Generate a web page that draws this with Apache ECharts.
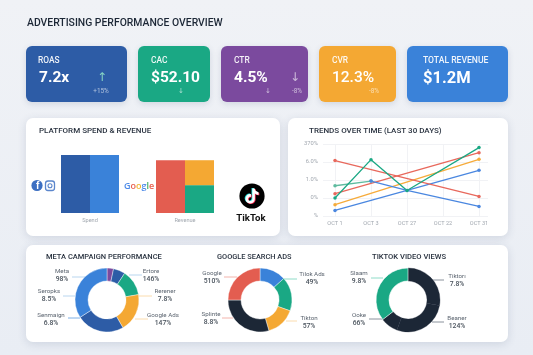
<!DOCTYPE html>
<html>
<head>
<meta charset="utf-8">
<title>Advertising Performance Overview</title>
<style>
  html, body { margin: 0; padding: 0; background: #eef1f6; }
  #main { width: 533px; height: 355px; }
</style>
<script src="https://cdn.jsdelivr.net/npm/echarts@6/dist/echarts.min.js"></script>
</head>
<body>
<div id="main"></div>
<script>
// platform bars
var barCats = ["Spend", "Revenue"];
var barLeft = [100, 91];
var barRightLow = [100, 48];
var barRightTop = [0, 43];

// trends
var trendDays = ["OCT 1", "OCT 3", "OCT 27", "OCT 22", "OCT 31"];
var trendTicks = ["%", "0%", "1.0%", "6.0%", "370%"];
var trendBlueUp = [0.31, null, null, null, 2.54];
var trendOrange = [0.63, null, null, null, 3.15];
var trendRedUp = [1.24, null, null, null, 3.52];
var trendRedDown = [3.08, null, null, null, 1.09];
var trendGreen = [1.0, 3.13, 1.42, null, 3.8];
var trendTeal = [1.68, 1.94, null, null, null];
var trendBlueDown = [null, 1.94, 1.42, null, 0.53];

// donuts, clockwise from the top
var metaNames = ["Meta", "Ertore", "Rerener", "Google Ads", "Senmaign", "Seropks"];
var metaTexts = ["98%", "146%", "7.8%", "147%", "6.8%", "8.5%"];
var metaValues = [3.3, 6, 13, 19.4, 24.2, 34.1];
var googleNames = ["", "Tilok Ads", "Tikton", "Splinte", "Google"];
var googleTexts = ["", "49%", "57%", "8.8%", "510%"];
var googleValues = [13.3, 17.2, 15, 29.5, 25];
var tiktokNames = ["Tiktorı", "Beaner", "Ooke", "Slaam"];
var tiktokTexts = ["7.8%", "124%", "66%", "9.8%"];
var tiktokValues = [27.8, 27.8, 8.9, 35.5];

var BLUE = "#2d5ca6", SKY = "#3a82d9", GREEN = "#1aa884", PURPLE = "#7b4a9e",
    ORANGE = "#f4a833", RED = "#e35d50", INK = "#1c2736";
var FONT = "Roboto";

var graphics = [];

function box(x, y, w, h, r, fill, shadow) {
    graphics.push({
        type: "rect", z: 0,
        shape: { x: x, y: y, width: w, height: h, r: r },
        style: { fill: fill, shadowBlur: shadow, shadowColor: "rgba(60,80,120,.16)", shadowOffsetY: 2 }
    });
}
function text(s, x, y, size, weight, fill, align, family) {
    graphics.push({
        type: "text", z: 3, x: x, y: y,
        style: {
            text: s, fill: fill, fontSize: size, fontWeight: weight,
            fontFamily: family || FONT, align: align || "left", verticalAlign: "middle"
        }
    });
}

// kpi cards
box(26, 46, 101, 56, 6, BLUE, 6);
box(138, 46, 72, 56, 6, GREEN, 6);
box(221, 46, 87, 56, 6, PURPLE, 6);
box(319, 46, 77, 56, 6, ORANGE, 6);
box(407, 46, 101, 56, 6, SKY, 6);

var soft = "rgba(255,255,255,.92)", faint = "rgba(255,255,255,.62)", DJ = "DejaVu Sans";
text("ADVERTISING PERFORMANCE OVERVIEW", 27, 23.5, 10.4, 500, INK);
text("ROAS", 38, 61, 8.4, 500, soft);
text("7.2x", 39, 78, 15.5, 700, "#fff");
text("↑", 102, 78, 12, 400, "#86d4c4", "center", DJ);
text("+15%", 101, 91, 6.4, 400, faint, "center");
text("CAC", 151, 61, 8.4, 500, soft);
text("$52.10", 151, 78, 15.5, 700, "#fff");
text("↓", 181, 91, 7, 400, faint, "center", DJ);
text("CTR", 234, 61, 8.4, 500, soft);
text("4.5%", 234, 78, 15.5, 700, "#fff");
text("↓", 268, 91, 7, 400, faint, "center", DJ);
text("↓", 295, 78, 12, 400, faint, "center", DJ);
text("-8%", 297, 91, 6.4, 400, faint, "center");
text("CVR", 332, 61, 8.4, 500, soft);
text("12.3%", 332, 78, 15.5, 500, "#fff");
text("-8%", 374, 91, 6.4, 400, faint, "center");
text("TOTAL REVENUE", 423, 61, 8.6, 500, soft);
text("$1.2M", 423, 79, 16.5, 700, "#fff");

// panels
box(26, 118, 254, 118, 7, "#fff", 8);
box(288, 118, 220, 118, 7, "#fff", 8);
box(26, 245, 482, 97, 7, "#fff", 8);
text("PLATFORM SPEND & REVENUE", 39, 131, 8, 500, "#2a3340");
text("TRENDS OVER TIME (LAST 30 DAYS)", 309, 131, 8, 500, "#2a3340");
text("META CAMPAIGN PERFORMANCE", 46, 257.5, 7.5, 500, "#2a3340");
text("GOOGLE SEARCH ADS", 217, 257.5, 7.4, 500, "#2a3340");
text("TIKTOK VIDEO VIEWS", 372, 257.5, 7.6, 500, "#2a3340");

// brand marks
var fbBlue = "#3c6fc2";
graphics.push({ type: "circle", z: 3, shape: { cx: 37, cy: 185.5, r: 5.6 }, style: { fill: fbBlue } });
text("f", 37.6, 186.5, 10, 700, "#fff", "center", "Liberation Sans");
graphics.push({ type: "rect", z: 3, shape: { x: 45.5, y: 181, width: 9, height: 9.5, r: 2.5 }, style: { fill: "none", stroke: "#5b86cc", lineWidth: 1.3 } });
graphics.push({ type: "circle", z: 3, shape: { cx: 50, cy: 185.7, r: 2 }, style: { fill: "none", stroke: "#5b86cc", lineWidth: 1.1 } });
graphics.push({
    type: "text", z: 3, x: 124, y: 186,
    style: {
        text: "{b|G}{r|o}{y|o}{b|g}{g|l}{r|e}", verticalAlign: "middle",
        rich: {
            b: { fill: "#4c8ae8", fontSize: 9, fontFamily: "Open Sans", fontWeight: 600 },
            r: { fill: "#e8604f", fontSize: 9, fontFamily: "Open Sans", fontWeight: 600 },
            y: { fill: "#f2b632", fontSize: 9, fontFamily: "Open Sans", fontWeight: 600 },
            g: { fill: "#3fae5f", fontSize: 9, fontFamily: "Open Sans", fontWeight: 600 }
        }
    }
});
graphics.push({ type: "circle", z: 3, shape: { cx: 252, cy: 196, r: 12.6 }, style: { fill: "#000" } });
text("TikTok", 251, 218.5, 9.6, 700, "#111", "center");

var notePath = "M12.525.02c1.31-.02 2.61-.01 3.91-.02.08 1.53.63 3.09 1.75 4.17 1.12 1.11 2.7 1.62 4.24 1.79v4.03c-1.44-.05-2.89-.35-4.2-.97-.57-.26-1.1-.59-1.62-.93-.01 2.92.01 5.84-.02 8.75-.08 1.4-.54 2.79-1.35 3.94-1.31 1.92-3.58 3.17-5.91 3.21-1.43.08-2.86-.31-4.08-1.03-2.02-1.19-3.44-3.37-3.65-5.71-.02-.5-.03-1-.01-1.49.18-1.9 1.12-3.72 2.58-4.96 1.66-1.44 3.98-2.13 6.15-1.72.02 1.48-.04 2.96-.04 4.44-.99-.32-2.15-.23-3.02.37-.63.41-1.11 1.04-1.36 1.75-.21.51-.15 1.07-.14 1.61.24 1.64 1.82 3.02 3.5 2.87 1.12-.01 2.19-.66 2.77-1.61.19-.33.4-.67.41-1.06.1-1.79.06-3.57.07-5.36.01-4.03-.01-8.05.02-12.07z";

function tiktokNote() {
    return {
        type: "custom", coordinateSystem: "none", data: [0], silent: true, z: 5,
        renderItem: function () {
            return {
                type: "group",
                children: [[-0.8, -0.6, "#25e4e0"], [0.8, 0.6, "#fe2c55"], [0, 0, "#fff"]].map(function (n) {
                    return {
                        type: "path",
                        shape: { pathData: notePath, x: 245.5 + n[0], y: 188.5 + n[1], width: 13, height: 15 },
                        style: { fill: n[2] }
                    };
                })
            };
        }
    };
}

function line(data, color) {
    return {
        type: "line", xAxisIndex: 2, yAxisIndex: 2, data: data, connectNulls: true,
        symbol: "circle", symbolSize: 3.5, lineStyle: { width: 1.3, color: color },
        itemStyle: { color: color }, z: 3
    };
}

function donut(names, texts, values, colors, cx, spots, leads, leadColors, borders) {
    return {
        type: "pie", center: [cx, 300], radius: [19, 32], startAngle: 90, clockwise: true,
        avoidLabelOverlap: false, silent: true,
        data: values.map(function (v, i) {
            return {
                value: v, name: names[i],
                itemStyle: {
                    color: colors[i],
                    borderColor: borders ? borders[i] : "#fff",
                    borderWidth: borders ? (borders[i] === "#fff" ? 0.6 : 0.3) : 0.4
                },
                label: { show: !!spots[i], formatter: "{n|" + names[i] + "}\n{v|" + texts[i] + "}" },
                labelLine: { show: !!spots[i], lineStyle: { color: leadColors[i], width: 1 } }
            };
        }),
        label: {
            position: "outside",
            rich: {
                n: { fontFamily: FONT, fontSize: 6.2, color: "#5c6570", lineHeight: 8, align: "center" },
                v: { fontFamily: FONT, fontSize: 6.8, fontWeight: 500, color: "#49525c", lineHeight: 8, align: "center" }
            }
        },
        labelLayout: function (p) {
            var s = spots[p.dataIndex], l = leads[p.dataIndex];
            if (!s) return {};
            return {
                x: s[0], y: s[1], align: "center", verticalAlign: "middle",
                labelLinePoints: [[l[0], l[2]], [l[1], l[2]], [l[1], l[2]]]
            };
        }
    };
}

var leadBlue = "#b9d6ef", leadOrange = "#fbdcae", leadRed = "#f3b4ac", leadTeal = "#8fdcc8", leadGrey = "#8a929c";

var option = {
    animation: false,
    backgroundColor: {
        type: "linear", x: 0, y: 0, x2: 0, y2: 1,
        colorStops: [{ offset: 0, color: "#f0f2f6" }, { offset: 1, color: "#e9edf4" }]
    },
    textStyle: { fontFamily: FONT },
    graphic: { elements: graphics },
    grid: [
        { left: 42.5, width: 190, top: 155, height: 58 },
        { left: 323, width: 165, top: 144, height: 72 },
        { left: 335, width: 144, top: 144, height: 72 }
    ],
    xAxis: [
        {
            gridIndex: 0, type: "category", data: barCats,
            axisLine: { show: false }, axisTick: { show: false },
            axisLabel: { color: "#a2a8b0", fontSize: 5.6, margin: 5 }
        },
        { gridIndex: 1, type: "value", min: 0, max: 1, show: false },
        {
            gridIndex: 2, type: "category", data: trendDays, boundaryGap: false,
            axisLine: { show: false }, axisTick: { show: false },
            axisLabel: { color: "#a2a8b0", fontSize: 5.6, margin: 5, interval: 0 },
            splitLine: { show: true, lineStyle: { color: "#f1f2f5", width: 1 } }
        }
    ],
    yAxis: [
        { gridIndex: 0, type: "value", min: 0, max: 100, show: false },
        {
            gridIndex: 1, type: "value", min: 0, max: 4, interval: 1,
            axisLine: { show: false }, axisTick: { show: false },
            axisLabel: {
                color: "#a2a8b0", fontSize: 5.8, margin: 5,
                formatter: function (v) { return trendTicks[v]; }
            },
            splitLine: { lineStyle: { color: "#f1f2f5", width: 1 } }
        },
        { gridIndex: 2, type: "value", min: 0, max: 4, show: false }
    ],
    series: [
        { type: "bar", name: "dark", stack: "a", xAxisIndex: 0, yAxisIndex: 0, barWidth: 29, barGap: 0,
          data: [{ value: barLeft[0], itemStyle: { color: BLUE } }, { value: barLeft[1], itemStyle: { color: RED } }] },
        { type: "bar", name: "low", stack: "b", xAxisIndex: 0, yAxisIndex: 0, barWidth: 29, barGap: 0,
          data: [{ value: barRightLow[0], itemStyle: { color: SKY } }, { value: barRightLow[1], itemStyle: { color: GREEN } }] },
        { type: "bar", name: "top", stack: "b", xAxisIndex: 0, yAxisIndex: 0, barWidth: 29, barGap: 0,
          data: [{ value: barRightTop[0], itemStyle: { color: ORANGE } }, { value: barRightTop[1], itemStyle: { color: ORANGE } }] },
        line(trendBlueUp, "#4a87e0"),
        line(trendOrange, "#f6ab3a"),
        line(trendRedUp, "#e8685c"),
        line(trendRedDown, "#e8685c"),
        line(trendTeal, "#5fbb9f"),
        line(trendBlueDown, "#4a87e0"),
        line(trendGreen, "#1aa884"),
        donut(metaNames, metaTexts, metaValues,
            [PURPLE, BLUE, GREEN, ORANGE, BLUE, SKY], 107,
            [[62, 275.5], [151, 275], [165, 295.5], [163, 319], [51, 319], [49, 295.5]],
            [[85, 72, 277], [129, 142, 275], [138, 152, 296], [135, 148, 319], [80, 68, 318], [75, 63, 296]],
            [leadBlue, leadBlue, leadOrange, leadOrange, "#7fb0e6", leadBlue]),
        donut(googleNames, googleTexts, googleValues,
            [SKY, GREEN, ORANGE, INK, RED], 260,
            [null, [312, 278.5], [309, 322], [211, 318], [212, 277]],
            [null, [283, 297, 279], [286, 297, 321], [233, 222, 318], [237, 224, 277]],
            [leadBlue, leadTeal, leadOrange, leadRed, leadRed]),
        donut(tiktokNames, tiktokTexts, tiktokValues,
            [INK, INK, INK, GREEN], 408,
            [[457, 280.5], [457, 322.5], [359, 319], [359, 277]],
            [[432, 444, 280], [432, 444, 322], [382, 369, 319], [383, 371, 278]],
            [leadGrey, leadGrey, leadGrey, leadTeal],
            [INK, INK, INK, "#fff"]),
        tiktokNote()
    ]
};

var chart = echarts.init(document.getElementById("main"));
chart.setOption(option);
</script>
</body>
</html>
